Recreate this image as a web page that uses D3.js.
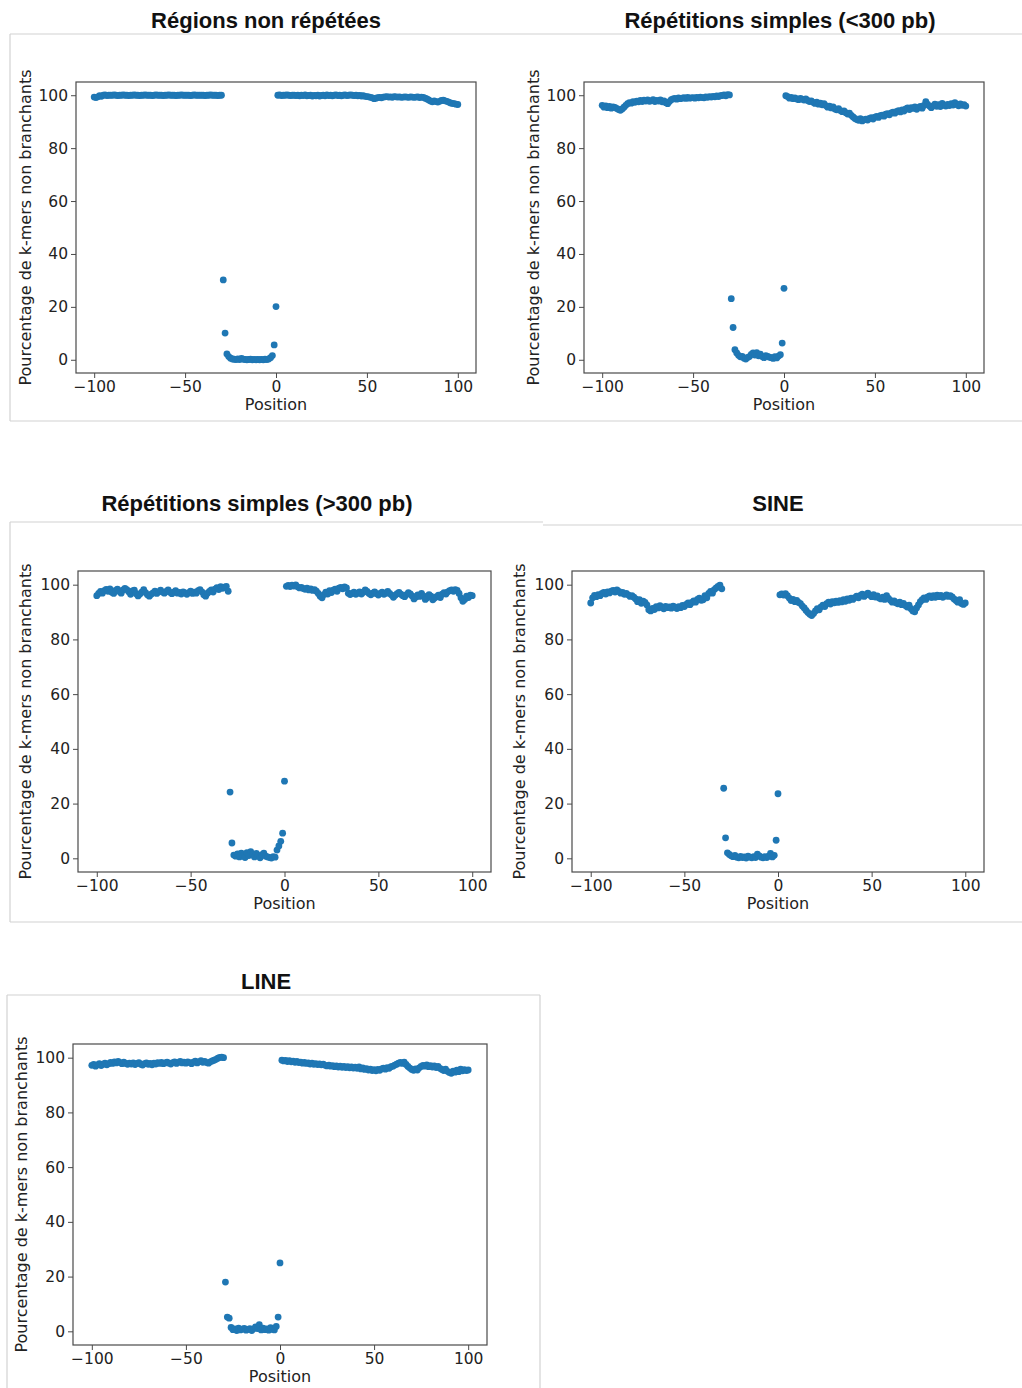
<!DOCTYPE html>
<html><head><meta charset="utf-8">
<script src="https://cdn.jsdelivr.net/npm/d3@7"></script>
<style>body{margin:0;background:#fff} svg{display:block}</style>
</head><body>
<svg id="chart" width="1022" height="1388"></svg>
<script>
// ---------- text ----------
const titles = ["Régions non répétées", "Répétitions simples (<300 pb)", "Répétitions simples (>300 pb)", "SINE", "LINE"];
const xLabel = "Position";
const yLabel = "Pourcentage de k-mers non branchants";
const xTicks = [-100, -50, 0, 50, 100];
const xTickLabels = ["−100", "−50", "0", "50", "100"];
const yTicks = [0, 20, 40, 60, 80, 100];
const yTickLabels = ["0", "20", "40", "60", "80", "100"];
// positions -100..100 ; left = -100..-30, mid = -29..0, right = 1..100
const positions = d3.range(-100, 101);

// ---------- data ----------
const nonRepLeft = [99.3,99.1,99.4,99.8,99.6,100.0,100.1,99.9,100.0,100.0,
 100.0,100.1,100.0,99.9,100.0,100.0,100.1,100.0,100.0,99.9,
 100.0,100.0,100.1,100.0,100.0,99.9,100.0,100.0,100.1,100.0,
 100.0,100.0,99.9,100.0,100.1,100.0,100.0,100.0,99.9,100.0,
 100.0,100.1,100.0,100.0,100.0,99.9,100.0,100.0,100.1,100.0,
 100.0,100.0,100.0,99.9,100.0,100.1,100.0,100.0,100.0,100.0,
 100.0,99.9,100.0,100.0,100.1,100.0,100.0,100.0,99.9,100.0,
 100.0];
const nonRepMid = [30.2,10.1,2.2,1.2,0.6,0.3,0.2,0.1,0.3,0.1,
 0.5,0.2,0.1,0.0,0.1,0.2,0.0,0.1,0.0,0.1,
 0.0,0.1,0.0,0.2,0.1,0.3,0.8,1.6,5.6,20.1];
const nonRepRight = [100.0,100.1,99.9,100.0,100.0,100.1,100.0,99.9,100.0,100.0,
 99.9,100.0,99.8,100.0,99.9,100.1,99.8,99.9,100.0,99.7,
 99.9,99.8,100.0,99.7,99.9,100.0,99.8,100.1,99.9,100.0,
 99.8,100.0,100.1,99.9,100.0,99.8,100.0,100.1,99.9,100.0,
 100.1,100.0,99.9,100.0,99.8,99.9,99.7,99.8,99.6,99.5,
 99.4,99.2,99.0,98.7,98.9,99.1,99.2,99.0,99.3,99.4,
 99.5,99.3,99.4,99.2,99.5,99.4,99.3,99.4,99.2,99.3,
 99.4,99.3,99.2,99.4,99.3,99.2,99.3,99.4,99.1,99.3,
 99.2,98.9,98.6,98.2,97.8,97.5,97.9,97.6,97.4,97.7,
 98.0,98.1,97.9,97.7,97.4,97.1,96.9,96.8,96.6,96.5];

const shortLeft = [96.2,95.5,96.0,95.3,95.8,95.1,95.6,95.4,95.0,94.6,
 94.3,94.8,95.5,96.2,96.8,97.2,97.0,97.6,97.3,97.8,
 97.5,98.0,97.6,98.1,97.8,98.2,97.7,97.9,98.3,97.6,
 98.0,97.8,98.2,97.5,97.9,97.2,96.8,97.6,98.3,98.6,
 98.8,98.5,99.0,98.7,98.9,99.1,98.8,99.2,98.9,99.0,
 99.1,98.9,99.2,99.0,99.3,99.1,99.0,99.4,99.2,99.5,
 99.3,99.6,99.4,99.7,99.5,99.8,99.9,100.1,99.8,100.2,
 100.1];
const shortMid = [23.1,12.2,3.8,2.6,1.7,1.1,1.3,0.6,0.3,0.9,
 1.2,2.0,2.6,1.8,2.7,1.5,2.1,1.2,0.8,1.6,
 1.3,1.0,0.8,0.5,1.2,0.7,1.4,1.9,6.3,27.0];
const shortRight = [99.8,99.5,98.9,99.2,98.7,99.0,98.6,98.3,98.8,98.5,
 98.2,98.6,98.0,97.6,97.9,97.3,96.9,97.4,96.6,97.0,
 96.4,96.8,96.1,95.5,95.9,95.2,95.6,94.8,94.5,94.9,
 94.2,93.8,94.1,93.4,92.9,93.2,92.4,91.8,91.2,90.8,
 90.5,91.1,90.3,90.7,91.0,90.6,91.2,91.5,91.0,91.7,
 92.0,91.6,92.3,92.5,92.1,92.8,93.0,92.6,93.3,93.6,
 93.2,93.9,94.2,93.7,94.5,94.0,94.8,95.2,94.6,95.3,
 95.0,95.6,94.7,95.4,95.8,95.1,96.2,97.6,96.5,95.9,
 95.3,96.0,96.6,95.8,96.4,95.7,96.9,96.2,95.9,96.5,
 96.1,96.8,96.3,97.2,96.5,96.0,96.7,96.2,96.4,95.9];

const longLeft = [96.0,96.8,97.5,96.9,97.8,98.3,97.6,98.5,97.2,96.8,
 97.9,98.4,97.5,96.9,98.1,98.6,98.2,97.4,96.5,97.7,
 98.0,96.7,95.9,96.6,97.3,98.2,97.1,96.3,95.8,96.5,
 97.0,97.6,96.8,97.4,98.0,97.3,96.9,97.5,98.1,97.2,
 96.7,97.3,97.8,96.9,97.2,96.6,97.4,97.0,96.5,97.1,
 97.6,96.8,97.3,96.9,97.8,98.2,97.4,96.3,95.8,96.9,
 97.5,98.1,97.3,98.4,98.9,98.2,99.3,98.7,99.1,99.4,
 97.6];
const longMid = [24.2,5.6,1.2,0.8,1.6,0.5,1.9,0.8,0.3,2.1,
 1.0,2.4,1.5,0.5,1.8,1.0,0.2,1.3,1.9,0.8,
 0.5,0.3,0.1,0.6,0.4,3.0,4.5,6.2,9.2,28.2];
const longRight = [99.4,99.7,99.3,99.8,99.5,99.9,99.2,98.8,99.0,98.6,
 98.3,98.7,98.1,98.5,97.9,98.2,97.6,96.8,95.8,95.2,
 96.4,97.3,96.6,97.8,97.1,98.0,98.4,97.6,98.7,99.0,
 98.5,99.2,98.8,96.9,96.4,96.8,97.3,96.5,96.9,97.4,
 96.6,97.2,98.1,97.5,96.8,96.3,96.9,97.4,96.7,96.2,
 96.8,97.3,96.5,96.9,97.5,96.8,96.2,95.4,96.1,96.7,
 97.2,96.5,96.0,95.6,96.4,97.1,96.6,95.9,94.8,95.5,
 96.3,95.7,96.8,95.9,94.6,95.2,96.4,95.8,94.5,95.1,
 95.6,96.2,95.3,96.5,97.1,96.6,97.4,97.8,98.1,97.6,
 98.2,97.9,96.8,95.2,93.9,94.6,95.8,95.3,96.2,96.0];

const sineLeft = [93.3,95.2,96.1,95.6,96.4,96.0,96.8,97.2,96.6,97.4,
 97.0,97.6,97.9,97.3,98.1,97.5,96.9,97.2,96.5,96.8,
 96.3,95.7,96.0,95.4,94.8,93.8,94.5,93.2,94.0,93.5,
 92.6,90.8,90.4,91.3,90.9,92.0,91.5,92.3,91.7,91.2,
 92.1,91.6,91.9,91.4,92.2,91.8,91.3,92.0,91.6,92.4,
 92.0,92.8,93.3,92.7,93.5,94.1,93.6,94.6,95.1,94.3,
 94.5,96.0,95.2,96.8,97.5,96.9,98.2,98.8,99.4,99.8,
 98.5];
const sineMid = [25.6,7.5,2.0,1.4,0.9,0.6,1.1,0.4,0.2,0.7,
 0.3,0.5,0.1,0.8,0.4,0.2,0.6,0.3,1.5,0.9,
 0.4,0.2,0.6,0.3,0.8,1.8,0.5,1.1,6.6,23.6];
const sineRight = [96.3,96.6,96.2,96.7,96.0,95.1,94.2,94.6,93.8,94.3,
 93.5,93.1,92.2,91.5,90.6,89.8,89.2,88.7,89.5,90.4,
 91.2,90.8,91.9,92.5,92.0,93.1,93.6,92.9,93.8,93.4,
 94.0,93.5,94.2,93.7,94.5,93.9,94.8,94.3,95.1,94.6,
 95.3,95.8,95.2,96.1,96.5,95.7,96.3,96.9,96.2,95.6,
 96.4,95.5,95.9,95.1,94.8,95.4,94.6,96.0,95.0,94.3,
 93.6,94.1,93.4,93.0,93.6,92.7,93.2,92.4,91.8,92.5,
 91.2,90.4,90.1,91.5,92.6,93.8,94.5,95.2,94.6,95.5,
 95.9,95.3,96.0,95.4,96.2,95.6,96.1,95.4,95.8,96.3,
 95.7,96.0,95.5,94.8,94.2,93.6,94.5,93.1,92.8,93.3];

const lineLeft = [97.2,97.5,96.9,97.4,97.8,97.1,97.6,98.0,97.4,97.8,
 98.3,97.9,98.5,98.1,98.6,98.2,97.8,98.4,97.9,97.6,
 98.0,97.7,98.1,97.5,97.9,98.2,97.6,97.3,97.8,98.1,
 97.6,97.9,97.4,98.0,97.7,98.2,97.9,98.3,97.8,98.1,
 98.4,98.0,97.7,98.2,98.5,97.9,98.3,98.6,98.1,98.4,
 98.0,98.5,98.2,97.8,98.4,98.7,98.1,98.5,98.9,98.3,
 98.6,98.2,98.0,98.5,98.8,99.1,99.4,99.8,100.1,100.2,
 100.0];
const lineMid = [18.0,5.2,4.8,1.4,0.6,0.9,0.3,1.2,0.5,0.8,
 1.1,0.4,0.7,1.0,0.3,0.9,1.6,1.0,2.4,0.5,
 1.2,0.6,0.9,0.4,1.3,0.7,0.5,1.8,5.2,25.0];
const lineRight = [99.1,98.8,99.0,98.6,98.9,98.5,98.7,98.3,98.6,98.2,
 98.4,98.0,98.3,97.9,98.1,97.7,98.0,97.6,97.8,97.5,
 97.7,97.4,97.6,97.2,97.0,97.3,96.9,97.1,96.7,97.0,
 96.6,96.9,96.5,96.8,96.4,96.7,96.3,96.6,96.2,96.5,
 96.1,96.6,95.9,96.3,95.7,96.0,95.5,95.8,95.3,95.6,
 95.2,95.7,95.4,95.9,96.2,95.8,96.4,96.1,96.7,96.9,
 97.3,97.6,98.0,98.3,97.9,98.4,97.5,96.8,96.2,95.7,
 95.4,95.9,95.5,96.3,96.8,97.2,96.9,97.4,96.7,97.1,
 96.6,97.0,96.4,96.8,96.1,95.7,95.3,95.8,95.0,94.6,
 94.3,95.1,94.7,95.4,94.9,95.8,95.2,95.6,95.3,95.5];

const seriesValues = [
  nonRepLeft.concat(nonRepMid, nonRepRight),
  shortLeft.concat(shortMid, shortRight),
  longLeft.concat(longMid, longRight),
  sineLeft.concat(sineMid, sineRight),
  lineLeft.concat(lineMid, lineRight)
];

// ---------- layout (style, not data) ----------
const layout = [
  {x0: 76,  x1: 476, y0: 82,   y1: 373,  tx: 266, ty: 28,  lx: 25},
  {x0: 584, x1: 984, y0: 82,   y1: 373,  tx: 780, ty: 28,  lx: 533},
  {x0: 78,  x1: 491, y0: 571,  y1: 872,  tx: 257, ty: 511, lx: 25},
  {x0: 572, x1: 984, y0: 571,  y1: 872,  tx: 778, ty: 511, lx: 519},
  {x0: 73,  x1: 487, y0: 1044, y1: 1345, tx: 266, ty: 989, lx: 21}
];

const svg = d3.select("#chart");
const frameColor = "#d2d2d2";
const spineColor = "#4a4a4a";
const dotColor = "#1f77b4";
const tickFont = "DejaVu Sans, sans-serif";

// screenshot frames
const frames = [
  [10, 34, 1022, 34], [10, 421, 1022, 421], [10, 34, 10, 421],
  [10, 522, 543, 522], [543, 525, 1022, 525], [10, 922, 1022, 922], [10, 522, 10, 922],
  [7, 995, 540, 995], [7, 995, 7, 1388], [540, 995, 540, 1388]
];
svg.append("g").selectAll("line").data(frames).join("line")
  .attr("x1", d => d[0]).attr("y1", d => d[1]).attr("x2", d => d[2]).attr("y2", d => d[3])
  .attr("stroke", frameColor).attr("stroke-width", 1.2);

layout.forEach((L, i) => {
  const g = svg.append("g");
  const x = d3.scaleLinear().domain([-110, 110]).range([L.x0, L.x1]);
  const y = d3.scaleLinear().domain([-5, 105]).range([L.y1, L.y0]);

  // title
  g.append("text").attr("x", L.tx).attr("y", L.ty)
    .attr("text-anchor", "middle")
    .style("font-family", "Liberation Sans, Arial, sans-serif")
    .style("font-weight", "bold").style("font-size", "22px")
    .attr("fill", "#111").text(titles[i]);

  // points
  g.append("g").selectAll("circle").data(positions).join("circle")
    .attr("cx", (p) => x(p))
    .attr("cy", (p, j) => y(seriesValues[i][j]))
    .attr("r", 3.4)
    .attr("fill", dotColor);

  // axes
  const xAxis = d3.axisBottom(x).tickValues(xTicks)
    .tickFormat((d, k) => xTickLabels[k]).tickSize(5).tickPadding(3).tickSizeOuter(0);
  const yAxis = d3.axisLeft(y).tickValues(yTicks)
    .tickFormat((d, k) => yTickLabels[k]).tickSize(5).tickPadding(3).tickSizeOuter(0);

  const gx = g.append("g").attr("transform", `translate(0,${L.y1})`).call(xAxis);
  const gy = g.append("g").attr("transform", `translate(${L.x0},0)`).call(yAxis);
  [gx, gy].forEach(a => {
    a.select(".domain").remove();
    a.selectAll("line").attr("stroke", spineColor).attr("stroke-width", 1);
    a.selectAll("text").attr("fill", "#222")
      .style("font-family", tickFont).style("font-size", "15.5px");
  });

  // spines box
  g.append("rect").attr("x", L.x0).attr("y", L.y0)
    .attr("width", L.x1 - L.x0).attr("height", L.y1 - L.y0)
    .attr("fill", "none").attr("stroke", spineColor).attr("stroke-width", 1.2);

  // axis labels
  g.append("text").attr("x", (L.x0 + L.x1) / 2).attr("y", L.y1 + 37)
    .attr("text-anchor", "middle").attr("fill", "#222")
    .style("font-family", tickFont).style("font-size", "16px").text(xLabel);
  g.append("text")
    .attr("transform", `translate(${L.lx},${(L.y0 + L.y1) / 2}) rotate(-90)`)
    .attr("dy", "0.35em").attr("text-anchor", "middle").attr("fill", "#222")
    .style("font-family", tickFont).style("font-size", "16px").text(yLabel);
});
</script>
</body></html>
